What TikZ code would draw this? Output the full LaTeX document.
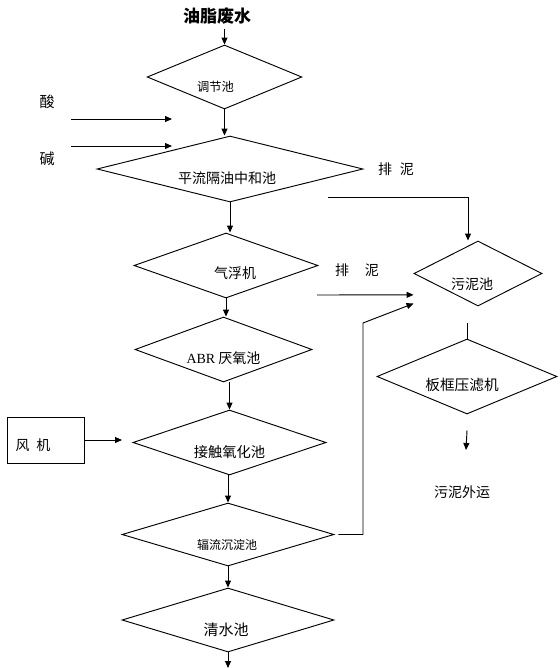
\documentclass[tikz,border=0pt]{standalone}
\usepackage{fontspec}
\setmainfont{Noto Sans CJK SC}
\newfontfamily\latin{Liberation Serif}
\usetikzlibrary{shapes.geometric,arrows.meta}

\tikzset{
pool/.style={draw, diamond, inner sep=0pt, line width=0.7pt},
flow/.style={line width=0.7pt, -{Triangle[length=5.25pt,width=4.5pt]}},
pipe/.style={line width=0.7pt},
}

\begin{document}
\begin{tikzpicture}[x=0.75pt, y=-0.75pt, font=\fontsize{10.5}{12}\selectfont]
\useasboundingbox (0,0) rectangle (560,668);
% main line
\node[font=\fontsize{12.75}{14}\selectfont\bfseries] (in) at (217,16) {油脂废水};
\node[pool, minimum width=116pt, minimum height=48pt,
  label={[shift={(-9,10)}, font=\fontsize{9.2}{11}\selectfont]center:调节池}] (tj) at (224.5,77) {};
\node[pool, minimum width=199.5pt, minimum height=49.5pt,
  label={[shift={(-3,9)}]center:平流隔油中和池}] (pl) at (230,169) {};
\node[pool, minimum width=138pt, minimum height=48.75pt,
  label={[shift={(9,8)}]center:气浮机}] (qf) at (226,265.5) {};
\node[pool, minimum width=132.75pt, minimum height=48.75pt,
  label={[shift={(0,8.5)}]center:{\latin ABR} 厌氧池}] (abr) at (223.5,349.5) {};
\node[pool, minimum width=144.75pt, minimum height=48.75pt,
  label={[shift={(0,9.5)}, font=\fontsize{10.7}{12}\selectfont]center:接触氧化池}] (jc) at (229.5,442.5) {};
\node[pool, minimum width=159pt, minimum height=47.25pt,
  label={[shift={(-1,10.5)}, font=\fontsize{9}{11}\selectfont]center:辐流沉淀池}] (fl) at (228,534.5) {};
\node[pool, minimum width=159pt, minimum height=48pt,
  label={[shift={(-2,10)}, font=\fontsize{11.25}{13}\selectfont]center:清水池}] (qs) at (228,620) {};
\coordinate (out) at (228,668);

\draw[flow] (in.south -| tj.north) -- (tj.north);
\draw[flow] (tj.south) -- (tj.south |- pl.north);
\draw[flow] (pl.south) -- (pl.south |- qf.north);
\draw[flow] (qf.south) -- (qf.south |- abr.north);
\draw[flow] (jc.north |- abr.south) -- (jc.north);
\draw[flow] (fl.north |- jc.south) -- (fl.north);
\draw[flow] (fl.south) -- (qs.north);
\draw[flow] (qs.south) -- (out);

% acid and base
\node[font=\fontsize{11.25}{13}\selectfont] (acid) at (47,102) {酸};
\node[font=\fontsize{11.25}{13}\selectfont] (base) at (47,159) {碱};
\coordinate (acid0) at (71,119);
\coordinate (acid1) at (172,119);
\coordinate (base0) at (71,146);
\coordinate (base1) at (172,146);
\draw[flow] (acid0) -- (acid1);
\draw[flow] (base0) -- (base1);

% blower
\node[draw, line width=0.7pt, minimum width=57.75pt, minimum height=34.5pt,
  label={[shift={(-12.5,5)}]center:风\hspace{5pt}机}] (fan) at (45.5,440) {};
\coordinate (fanin) at (122,440);
\draw[flow] (fan) -- (fanin);

% sludge line
\node[pool, minimum width=96pt, minimum height=48.75pt,
  label={[shift={(-6,10.5)}]center:污泥池}] (wn) at (478,273.5) {};
\node[pool, minimum width=135pt, minimum height=56.25pt,
  label={[shift={(-5,8.5)}, font=\fontsize{11}{13}\selectfont]center:板框压滤机}] (bk) at (467,376.5) {};
\node (ship) at (462,492) {污泥外运};
\node (pn1) at (396,169) {排\hspace{6pt}泥};
\node (pn2) at (357,270) {排\hspace{12pt}泥};

\coordinate (m1) at (328,197);
\coordinate (m2) at (317,295);
\coordinate (m3) at (363,323);
\coordinate (wna) at ([yshift=-16pt]wn.west);
\coordinate (wnb) at ([yshift=-22.5pt]wn.west);
\coordinate (shipin) at (466,450);

\draw[flow] (m1) -| ([xshift=-7.5pt]wn.north);
\draw[flow] (m2) -- (wna);
\draw[flow] ([xshift=3pt]fl.east) -- (m3 |- fl.east) -- (m3) -- (wnb);
\draw[pipe] (bk.north) -- ++(0,-16);
\draw[flow] ([yshift=-12pt]bk.south) -- (shipin);
\end{tikzpicture}
\end{document}
